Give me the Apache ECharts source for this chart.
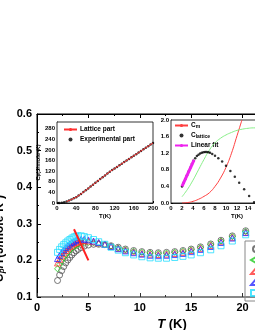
<!DOCTYPE html>
<html><head><meta charset="utf-8">
<script src="https://cdn.jsdelivr.net/npm/echarts@6/dist/echarts.min.js"></script>
<style>html,body{margin:0;padding:0;background:#fff}#c{width:255px;height:330px}</style>
</head><body><div id="c"></div><script>
// ---- main plot data ----
const T_main = [2.0,2.2,2.4,2.6,2.8,3.0,3.2,3.4,3.6,3.8,4.0,4.3,4.6,5.0,5.5,6.0,6.6,7.2,7.9,8.6,9.4,10.2,11.0,11.8,12.6,13.4,14.2,15.0,15.9,16.9,17.9,19.0,20.3];
const s1 = [0.145,0.160,0.172,0.183,0.193,0.201,0.208,0.215,0.221,0.226,0.230,0.235,0.239,0.242,0.244,0.244,0.243,0.240,0.236,0.231,0.227,0.224,0.222,0.221,0.222,0.224,0.227,0.231,0.237,0.245,0.255,0.267,0.281];
const s2 = [0.177,0.188,0.198,0.207,0.215,0.222,0.228,0.233,0.237,0.241,0.244,0.247,0.249,0.249,0.248,0.246,0.243,0.239,0.234,0.229,0.225,0.222,0.220,0.219,0.220,0.222,0.225,0.229,0.235,0.243,0.253,0.265,0.279];
const s3 = [0.193,0.203,0.212,0.220,0.227,0.233,0.238,0.242,0.246,0.249,0.251,0.253,0.254,0.253,0.251,0.248,0.244,0.239,0.233,0.228,0.223,0.219,0.217,0.216,0.217,0.219,0.222,0.227,0.233,0.241,0.251,0.263,0.277];
const s4 = [0.205,0.214,0.222,0.229,0.235,0.240,0.245,0.249,0.252,0.255,0.257,0.258,0.258,0.256,0.253,0.249,0.244,0.238,0.232,0.226,0.221,0.217,0.214,0.213,0.214,0.216,0.219,0.224,0.230,0.238,0.249,0.261,0.276];
const s5 = [0.222,0.230,0.237,0.243,0.248,0.253,0.257,0.261,0.264,0.266,0.267,0.267,0.265,0.262,0.257,0.251,0.244,0.236,0.228,0.221,0.215,0.210,0.207,0.206,0.206,0.208,0.211,0.215,0.221,0.229,0.240,0.253,0.270];
const mainNames = ['1','2','3','4','5'];
const arrowFrom = [3.6, 0.285];
const arrowTo = [5.0, 0.200];

// ---- inset 1 data ----
const T_exp = [2,5,10,15,20,25,30,35,40,45,50,55,60,65,70,75,80,85,90,95,100,105,110,115,120,125,130,135,140,145,150,155,160,165,170,175,180,185,190,195,200];
const Cp_exp = [0,0.3,1.2,3,5.5,9,13,17.5,22,28,34,41,48,55,62,69,76,83,90,97,104,111,118,124,130,136,142,148,154,160,166,172,178,184,190,196,202,208,214,220,226];
const T_lat = [20,30,40,50,60,70,80,90,100,110,120,130,140,150,160,170,180,190,200];
const Cp_lat = [5.5,13,22,34,48,62,76,90,104,118,130,142,154,166,178,190,202,214,226];

// ---- inset 2 data ----
const T_cm = [2,3,4,5,6,7,8,9,10,11,12,12.9];
const Cm = [0,0.01,0.04,0.09,0.16,0.25,0.40,0.60,0.86,1.20,1.62,2.0];
const T_green = [2,3,4,5,6,7,8,9,10,11,12,13,14,15,16];
const C_green = [0.15,0.33,0.55,0.80,1.05,1.28,1.45,1.56,1.64,1.70,1.75,1.78,1.80,1.81,1.81];
const T_cl = [2.0,2.3,2.6,2.9,3.2,3.5,3.8,4.1,4.4,4.7,5.0,5.3,5.6,5.9,6.2,6.5,6.8,7.1,7.5,8.0,8.6,9.3,10.0,10.8,11.6,12.4,13.3,14.2,15.1];
const C_cl = [0.40,0.49,0.58,0.67,0.76,0.85,0.94,1.02,1.08,1.13,1.16,1.19,1.21,1.22,1.23,1.23,1.22,1.21,1.18,1.14,1.08,1.00,0.90,0.77,0.63,0.49,0.33,0.17,0.02];
const T_fit = [2.0, 4.2];
const C_fit = [0.40, 1.04];

const zip = (a,b)=>a.map((x,i)=>[x,b[i]]);
const FF = '"Liberation Sans", Arial, sans-serif';
const chart = echarts.init(document.getElementById('c'), null, {renderer:'canvas'});
const mainCols = ['#555555','#22cc22','#ff3333','#2a2aff','#22ddff'];
const mainSyms = ['circle','diamond','triangle','triangle','rect'];
const mainData = [s1,s2,s3,s4,s5];
const smallLbl = {fontSize:6, fontWeight:'bold', color:'#000', fontFamily:FF};
const tinyRich = {
  a:{fontSize:6, fontWeight:'bold', fontFamily:FF, color:'#000'},
  b:{fontSize:4, fontWeight:'bold', fontFamily:FF, color:'#000', verticalAlign:'bottom'}
};

const series = mainData.map((d,i)=>({
  type:'scatter', name: mainNames[i], xAxisIndex:0, yAxisIndex:0,
  data: zip(T_main,d), symbol: mainSyms[i], symbolSize: 6,
  itemStyle:{color:'rgba(0,0,0,0)', borderColor: mainCols[i], borderWidth:1},
  z: 3
}));
series[0].markLine = {
  silent:true, symbol:['none','arrow'], symbolSize:[0,9],
  lineStyle:{color:'#ff2020', width:2, type:'solid'}, label:{show:false},
  data:[[{coord:arrowFrom},{coord:arrowTo}]]
};
series.push(
  {type:'scatter', name:'Experimental part', xAxisIndex:2, yAxisIndex:2, data: zip(T_exp,Cp_exp),
   symbol:'circle', symbolSize:2.5, itemStyle:{color:'#000'}, z:5},
  {type:'line', name:'Lattice part', xAxisIndex:2, yAxisIndex:2, data: zip(T_lat,Cp_lat),
   showSymbol:false, symbol:'none', lineStyle:{color:'#ff3030', width:1}, itemStyle:{color:'#ff3030'}, z:6},
  {type:'line', name:'Cm', xAxisIndex:3, yAxisIndex:3, data: zip(T_cm,Cm),
   showSymbol:false, symbol:'none', smooth:true, lineStyle:{color:'#ff4040', width:1}, itemStyle:{color:'#ff4040'}, z:5},
  {type:'line', name:'green', xAxisIndex:3, yAxisIndex:3, data: zip(T_green,C_green),
   showSymbol:false, symbol:'none', smooth:true, lineStyle:{color:'#88ee88', width:1}, itemStyle:{color:'#88ee88'}, z:5},
  {type:'scatter', name:'Clattice', xAxisIndex:3, yAxisIndex:3, data: zip(T_cl,C_cl),
   symbol:'circle', symbolSize:2.5, itemStyle:{color:'#000'}, z:6},
  {type:'line', name:'Linear fit', xAxisIndex:3, yAxisIndex:3, data: zip(T_fit,C_fit),
   showSymbol:false, symbol:'none', lineStyle:{color:'#ee22ee', width:3}, itemStyle:{color:'#ee22ee'}, z:7}
);

const option = {
  animation:false,
  backgroundColor:'#fff',
  grid:[
    {left:37, top:114, right:-39, bottom:33, outerBoundsMode:'none', containLabel:false, show:true, borderColor:'#000', borderWidth:1, backgroundColor:'#fff', z:0},
    {left:37, top:114, right:-39, bottom:33, outerBoundsMode:'none', containLabel:false, show:false},
    {left:57, top:122, right:102, bottom:127, outerBoundsMode:'none', containLabel:false, show:true, borderColor:'#000', borderWidth:0.8, backgroundColor:'#fff', z:1},
    {left:171, top:120, right:-48, bottom:127, outerBoundsMode:'none', containLabel:false, show:true, borderColor:'#000', borderWidth:0.8, backgroundColor:'#fff', z:1}
  ],
  xAxis:[
    {gridIndex:0, type:'value', min:0, max:25, interval:5, position:'bottom',
     axisLine:{show:true, lineStyle:{color:'#8a8a8a', width:1.5}},
     axisTick:{inside:true, length:4, lineStyle:{color:'#333'}},
     minorTick:{show:true, splitNumber:2, length:2, lineStyle:{color:'#333'}},
     splitLine:{show:false},
     axisLabel:{fontSize:11, fontWeight:'bold', color:'#000', fontFamily:FF, margin:5},
     name:'{i|T}{n| (K)}', nameLocation:'middle', nameGap:12,
     nameTextStyle:{color:'#000', padding:[0,0,0,13], rich:{i:{fontSize:13,fontWeight:'bold',fontStyle:'italic',fontFamily:FF,color:'#000'},n:{fontSize:13,fontWeight:'bold',fontFamily:FF,color:'#000'}}}},
    {gridIndex:1, type:'value', min:0, max:25, interval:5, position:'top',
     axisLine:{show:true, lineStyle:{color:'#000', width:1}},
     axisTick:{inside:true, length:4, lineStyle:{color:'#000'}},
     minorTick:{show:true, splitNumber:2, length:2, lineStyle:{color:'#000'}},
     splitLine:{show:false}, axisLabel:{show:false}},
    {gridIndex:2, type:'value', min:0, max:200, interval:40,
     axisLine:{show:true, lineStyle:{color:'#000', width:0.8}},
     axisTick:{inside:true, length:2, lineStyle:{color:'#000'}},
     splitLine:{show:false},
     axisLabel:Object.assign({margin:2}, smallLbl),
     name:'T(K)', nameLocation:'middle', nameGap:10,
     nameTextStyle:{fontSize:6, fontWeight:'bold', fontFamily:FF, color:'#000'}},
    {gridIndex:3, type:'value', min:0, max:24, interval:2,
     axisLine:{show:true, lineStyle:{color:'#000', width:0.8}},
     axisTick:{inside:true, length:2, lineStyle:{color:'#000'}},
     splitLine:{show:false},
     axisLabel:Object.assign({margin:2}, smallLbl),
     name:'T(K)', nameLocation:'middle', nameGap:10,
     nameTextStyle:{fontSize:6, fontWeight:'bold', fontFamily:FF, color:'#000'}}
  ],
  yAxis:[
    {gridIndex:0, type:'value', min:0.1, max:0.6, interval:0.1,
     axisLine:{show:true, lineStyle:{color:'#000', width:1}},
     axisTick:{inside:true, length:4, lineStyle:{color:'#000'}},
     minorTick:{show:true, splitNumber:2, length:2, lineStyle:{color:'#000'}},
     splitLine:{show:false},
     axisLabel:{fontSize:11, fontWeight:'bold', color:'#000', fontFamily:FF, margin:5, formatter:v=>v.toFixed(1)},
     name:'{i|C}{s|p}{n|/T(J/mole-K}{u|2}{n|)}', nameLocation:'middle', nameGap:23, nameRotate:90,
     nameTextStyle:{color:'#000', padding:[0,66,0,0], rich:{
       i:{fontSize:12,fontWeight:'bold',fontStyle:'italic',fontFamily:FF,color:'#000'},
       s:{fontSize:8,fontWeight:'bold',fontStyle:'italic',fontFamily:FF,color:'#000',verticalAlign:'bottom'},
       n:{fontSize:12,fontWeight:'bold',fontFamily:FF,color:'#000'},
       u:{fontSize:7,fontWeight:'bold',fontFamily:FF,color:'#000',verticalAlign:'top'}}}},
    {gridIndex:1, type:'value', min:0.1, max:0.6, interval:0.1, show:false},
    {gridIndex:2, type:'value', min:0, max:305, interval:40,
     axisLine:{show:true, lineStyle:{color:'#000', width:0.8}},
     axisTick:{inside:true, length:2, lineStyle:{color:'#000'}},
     splitLine:{show:false},
     axisLabel:Object.assign({margin:2, showMaxLabel:false}, smallLbl),
     name:'{a|C}{b|p}{a|(J/mole-K)}', nameLocation:'middle', nameGap:11, nameRotate:90,
     nameTextStyle:{color:'#000', rich:tinyRich}},
    {gridIndex:3, type:'value', min:0, max:2, interval:0.4,
     axisLine:{show:true, lineStyle:{color:'#000', width:0.8}},
     axisTick:{inside:true, length:2, lineStyle:{color:'#000'}},
     splitLine:{show:false},
     axisLabel:Object.assign({margin:2, formatter:v=>v.toFixed(1)}, smallLbl),
     name:'{a|C}{b|m}{a|(J/mole-K)}', nameLocation:'middle', nameGap:11, nameRotate:90,
     nameTextStyle:{color:'#000', rich:tinyRich}}
  ],
  legend:[
    {data: mainNames, orient:'vertical', left:245, top:241, itemGap:3, itemWidth:10, itemHeight:6,
     borderColor:'#888', borderWidth:1, padding:[4,5,4,5], textStyle:{fontSize:8}},
    {data:['Lattice part','Experimental part'], orient:'vertical', left:63, top:126, itemGap:3,
     itemWidth:13, itemHeight:4, padding:0, selectedMode:false,
     textStyle:{fontSize:6.5, fontWeight:'bold', fontFamily:FF, color:'#000', padding:[0,0,0,-2]}},
    {data:['Cm','Clattice','Linear fit'], orient:'vertical', left:174, top:122, itemGap:3,
     itemWidth:13, itemHeight:4, padding:0, selectedMode:false,
     formatter: n => n==='Cm' ? '{a|C}{b|m}' : (n==='Clattice' ? '{a|C}{b|lattice}' : '{a|Linear fit}'),
     textStyle:{fontSize:6.5, fontWeight:'bold', fontFamily:FF, color:'#000', padding:[0,0,0,-2],
       rich:{a:{fontSize:6.5,fontWeight:'bold',fontFamily:FF,color:'#000'}, b:{fontSize:5,fontWeight:'bold',fontFamily:FF,color:'#000',verticalAlign:'bottom'}}}}
  ],
  series: series
};
chart.setOption(option);
</script></body></html>
